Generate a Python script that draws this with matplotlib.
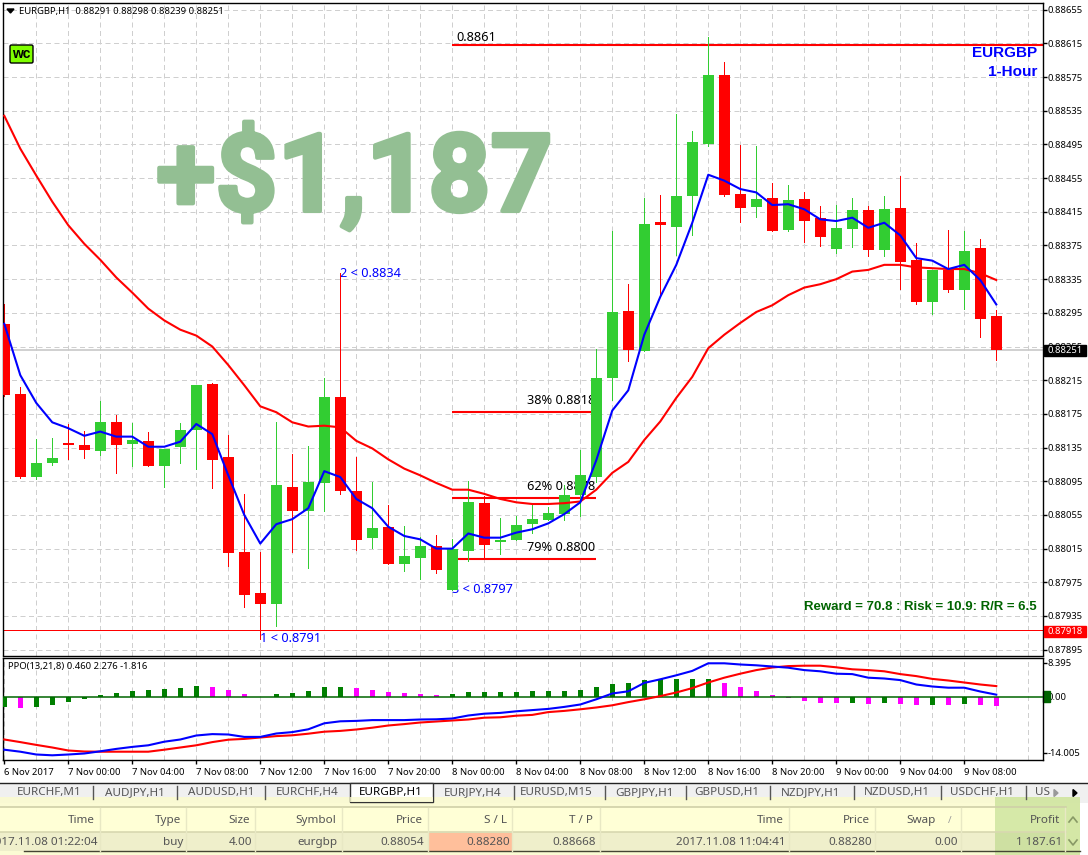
import numpy as np
import matplotlib
matplotlib.use("Agg")
import matplotlib.pyplot as plt
import matplotlib.patheffects as pe
from matplotlib.patches import Rectangle, FancyBboxPatch, Polygon

plt.rcParams["font.family"] = ["Noto Sans", "DejaVu Sans"]

W, H = 1088, 855
POINT = 1e-5

# ---- Candles, in price points (0.88306 -> 88306) ----
high = [88306, 88207, 88145, 88146, 88163, 88155, 88190, 88174, 88164, 88154, 88133, 88164, 88209, 88212, 88150, 88080,
        88011, 88165, 88127, 88137, 88218, 88342, 88124, 88094, 88067, 88042, 88029, 88031, 88026, 88095, 88078, 88051,
        88054, 88068, 88064, 88091, 88132, 88252, 88392, 88329, 88431, 88435, 88531, 88511, 88623, 88593, 88494, 88493,
        88449, 88447, 88438, 88422, 88423, 88431, 88422, 88434, 88458, 88378, 88346, 88393, 88392, 88383, 88298]
low = [88196, 88099, 88098, 88114, 88122, 88123, 88126, 88105, 88113, 88113, 88088, 88117, 88110, 88087, 87994, 87946,
       87908, 87923, 88011, 87992, 88060, 88080, 88013, 88016, 87997, 87988, 87979, 87986, 87966, 88000, 88003, 88009,
       88025, 88034, 88049, 88049, 88054, 88094, 88192, 88238, 88250, 88317, 88364, 88387, 88493, 88434, 88403, 88409,
       88392, 88392, 88379, 88374, 88366, 88373, 88362, 88362, 88323, 88305, 88294, 88320, 88300, 88266, 88239]
opens = [88282, 88199, 88100, 88117, 88141, 88138, 88131, 88165, 88139, 88143, 88113, 88136, 88156, 88211, 88124, 88011,
         87962, 87949, 88088, 88060, 88093, 88195, 88084, 88028, 88041, 87997, 88004, 88018, 87966, 88012, 88069, 88023,
         88025, 88044, 88049, 88056, 88079, 88100, 88218, 88297, 88250, 88403, 88397, 88434, 88495, 88577, 88436, 88421,
         88431, 88393, 88430, 88408, 88371, 88395, 88417, 88370, 88420, 88358, 88308, 88346, 88322, 88372, 88291]
closes = [88198, 88100, 88117, 88123, 88138, 88132, 88165, 88138, 88144, 88113, 88133, 88156, 88209, 88120, 88010, 87960,
          87949, 88091, 88060, 88094, 88195, 88084, 88025, 88040, 87997, 88006, 88018, 87990, 88015, 88070, 88019, 88025,
          88043, 88050, 88057, 88079, 88102, 88218, 88296, 88251, 88400, 88399, 88434, 88498, 88577, 88435, 88420, 88430,
          88392, 88429, 88404, 88385, 88396, 88417, 88370, 88418, 88355, 88308, 88346, 88322, 88368, 88288, 88251]

# ---- Moving averages ----
ma_fast = [88282, 88221, 88188, 88165, 88158, 88149, 88154, 88148, 88148, 88136, 88136, 88142, 88163, 88151, 88102, 88055,
           88021, 88044, 88050, 88063, 88107, 88100, 88074, 88063, 88041, 88030, 88026, 88015, 88015, 88033, 88028, 88028,
           88034, 88038, 88045, 88056, 88070, 88120, 88179, 88203, 88269, 88314, 88352, 88402, 88459, 88452, 88442, 88438,
           88423, 88424, 88418, 88406, 88404, 88408, 88396, 88402, 88387, 88360, 88357, 88347, 88352, 88334, 88305]
ma_slow = [88529, 88490, 88458, 88427, 88399, 88377, 88358, 88337, 88319, 88300, 88286, 88275, 88268, 88255, 88233, 88209,
           88184, 88177, 88165, 88160, 88161, 88159, 88143, 88134, 88121, 88110, 88102, 88093, 88085, 88085, 88080, 88074,
           88070, 88068, 88068, 88069, 88071, 88085, 88105, 88118, 88144, 88166, 88194, 88219, 88253, 88269, 88283, 88296,
           88304, 88316, 88325, 88329, 88335, 88344, 88346, 88352, 88352, 88349, 88348, 88347, 88347, 88342, 88334]

# ---- Levels ----
level_top = 88613
level_38 = 88177
level_62 = 88075
level_79 = 88003
level_stop = 87918
last_price = 88251

# ---- PPO panel ----
ppo_hist = [-2.6, -2.8, -2.6, -2.2, -1.3, -0.6, 0.3, 0.8, 1.3, 1.6, 1.8, 2.1, 2.6, 2.3, 1.6, 0.6, 0, 0.6, 0.8, 1.3, 2.3,
            2.3, 2.1, 1.6, 1.1, 0.8, 0.6, 0.3, 0.6, 1.1, 1.1, 1.1, 1.1, 1.3, 1.3, 1.3, 1.6, 2.3, 3.1, 3.3, 4.1, 4.3, 4.3,
            4.3, 4.3, 3.3, 2.3, 1.3, 0.3, -0.3, -1.2, -1.7, -1.7, -1.7, -1.9, -1.7, -1.9, -2.2, -2.2, -2.2, -1.9, -2.2, -2.4]
ppo_falling = [1, 13, 14, 15, 22, 23, 24, 25, 26, 27, 45, 46, 47, 48, 49, 50, 51, 52, 54, 56, 57, 59, 61, 62]
ppo_main = [-13.3, -13.8, -14.5, -14.7, -14.5, -14.25, -13.7, -13.1, -12.6, -12.2, -11.3, -10.75, -9.75, -9.4, -9.5, -10.1,
            -10.1, -9.25, -8.9, -8.2, -6.7, -6.2, -6.1, -5.9, -5.9, -5.9, -5.75, -5.7, -5.5, -4.75, -4.3, -4.1, -3.7, -3.4,
            -3.1, -2.6, -2, -0.7, 0.75, 1.3, 3.4, 4.3, 5.3, 6.4, 8.3, 8.3, 8, 7.8, 7.5, 7.2, 6.6, 6.3, 5.7, 5.6, 4.7, 4.5,
            4.1, 3, 2.5, 2.2, 2.2, 1.25, 0.46]
ppo_signal = [-10.75, -11.4, -12.1, -12.75, -13.5, -13.75, -13.8, -13.8, -13.8, -13.8, -13.3, -12.75, -12.2, -11.4, -10.8,
              -10.6, -10.25, -9.9, -9.7, -9.3, -8.8, -8.6, -8.25, -7.8, -7.25, -6.9, -6.5, -6.25, -6, -5.75, -5.3, -5.2,
              -4.8, -4.6, -3.9, -3.6, -3.2, -2.75, -2.2, -1.4, -0.7, 0.1, 1, 2.1, 3.5, 4.7, 5.7, 6.6, 7.25, 7.6, 7.7, 7.7,
              7.3, 6.8, 6.6, 6.3, 5.6, 5.1, 4.4, 4, 3.5, 3, 2.6]

date_labels = ["6 Nov 2017", "7 Nov 00:00", "7 Nov 04:00", "7 Nov 08:00", "7 Nov 12:00", "7 Nov 16:00", "7 Nov 20:00",
               "8 Nov 00:00", "8 Nov 04:00", "8 Nov 08:00", "8 Nov 12:00", "8 Nov 16:00", "8 Nov 20:00",
               "9 Nov 00:00", "9 Nov 04:00", "9 Nov 08:00"]

tab_names = ["EURCHF,M1", "AUDJPY,H1", "AUDUSD,H1", "EURCHF,H4", "EURGBP,H1", "EURJPY,H4", "EURUSD,M15", "GBPJPY,H1",
             "GBPUSD,H1", "NZDJPY,H1", "NZDUSD,H1", "USDCHF,H1", "US"]
header_names = ["Time", "Type", "Size", "Symbol", "Price", "S / L", "T / P", "Time", "Price", "Swap", "Profit"]
row_values = ["2017.11.08 01:22:04", "buy", "4.00", "eurgbp", "0.88054", "0.88280", "0.88668", "2017.11.08 11:04:41",
              "0.88280", "0.00", "1 187.61"]

GREEN = "#32cd32"
RED = "#ff0000"
BLUE = "#0000ff"
GRID = "#cfcfcf"
FS_TICK = 6.8
FS_DATE = 6.8
FS_LABEL = 9.2
GRID_DASH = (0, (5, 3.5))


def px_axes(left, top, right, bottom, **kw):
    return fig.add_axes([left / W, 1 - bottom / H, (right - left) / W, (bottom - top) / H], **kw)


def price_at(y_px):
    # screen row of the main panel -> price, only used to hang free text
    return (88666.5 - 1.1875 * y_px) * POINT


def style_grid(ax):
    ax.grid(True, color=GRID, linestyle=GRID_DASH, linewidth=0.72)
    ax.set_axisbelow(True)
    for s in ax.spines.values():
        s.set_linewidth(1.0)
        s.set_color("black")


fig = plt.figure(figsize=(W / 100, H / 100), dpi=100, facecolor="white")

bars = np.arange(len(closes))
o = np.array(opens) * POINT
c = np.array(closes) * POINT
hi = np.array(high) * POINT
lo = np.array(low) * POINT
up = c >= o
candle_colors = np.where(up, GREEN, RED)

# ---- Main price panel ----
ax = px_axes(3, 3, 1043, 655.5)
ax.set_xlim(-0.08, 64.92)
ax.set_ylim(price_at(655.5), price_at(3))
style_grid(ax)

price_ticks = np.arange(88655, 87894, -40) * POINT
ax.yaxis.tick_right()
ax.set_yticks(price_ticks)
ax.set_yticklabels([f"{t:.5f}" for t in price_ticks], fontsize=FS_TICK)
ax.tick_params(axis="y", length=2.6, width=1, pad=1)
ax.set_xticks(np.arange(2, 65, 2))
ax.tick_params(axis="x", length=0, labelbottom=False)

# big result text sits behind everything
ax.text(9.5, price_at(211), "+$1,187", fontsize=78, fontweight="bold", family="Roboto", color="#93bf93",
        ha="left", va="baseline", zorder=1, path_effects=[pe.withStroke(linewidth=3, foreground="#93bf93")])

# levels
ax.axhline(last_price * POINT, color="#c8c8c8", linewidth=1.2, zorder=1.2)
ax.axhline(level_stop * POINT, color=RED, linewidth=0.72, zorder=1.2)
ax.hlines(level_top * POINT, 28, 64.92, color=RED, linewidth=1.5, zorder=1.5)
ax.hlines([level_38 * POINT, level_62 * POINT, level_79 * POINT], 28, 37, color=RED, linewidth=1.5, zorder=1.5)

# labels of the levels, under the candles like in the terminal
ax.text(28.25, (level_top + 1) * POINT, "0.8861", fontsize=FS_LABEL, va="bottom", zorder=1.6)
ax.text(32.65, (level_38 + 5.6) * POINT, "38% 0.8818", fontsize=FS_LABEL, va="bottom", zorder=1.6)
ax.text(32.65, (level_62 + 5.6) * POINT, "62% 0.8878", fontsize=FS_LABEL, va="bottom", zorder=1.6)
ax.text(32.65, (level_79 + 5.6) * POINT, "79% 0.8800", fontsize=FS_LABEL, va="bottom", zorder=1.6)

ax.text(21.0, high[21] * POINT, "2 < 0.8834", fontsize=FS_LABEL, color=BLUE, va="center", zorder=1.6)
ax.text(28.0, low[28] * POINT, "3 < 0.8797", fontsize=FS_LABEL, color=BLUE, va="center", zorder=1.6)
ax.text(16.0, low[16] * POINT, "1 < 0.8791", fontsize=FS_LABEL, color=BLUE, va="center", zorder=5)

# candles
ax.vlines(bars, lo, hi, colors=candle_colors, linewidth=0.72, zorder=2.5, antialiased=False)
ax.bar(bars, np.abs(c - o), bottom=np.minimum(o, c), width=0.69, color=candle_colors, linewidth=0, zorder=3)

# moving averages
ax.plot(bars, np.array(ma_slow) * POINT, color=RED, linewidth=1.5, zorder=4)
ax.plot(bars, np.array(ma_fast) * POINT, color=BLUE, linewidth=1.5, zorder=4.2)

ax.text(64.55, price_at(53), "EURGBP", ha="right", va="center", fontsize=11, fontweight="bold", color=BLUE,
        family="Liberation Sans", zorder=6)
ax.text(64.55, price_at(72), "1-Hour", ha="right", va="center", fontsize=11, fontweight="bold", color=BLUE,
        family="Liberation Sans", zorder=6)
ax.text(64.55, price_at(607), "Reward = 70.8 : Risk = 10.9: R/R = 6.5", ha="right", va="center", fontsize=9.5,
        fontweight="bold", color="#006400", family="Liberation Sans", zorder=6)

# ---- PPO panel ----
ax2 = px_axes(3, 657.5, 1043, 760)
ax2.set_xlim(-0.08, 64.92)
ax2.set_ylim(-15.875, 9.75)
style_grid(ax2)
ax2.yaxis.grid(False)

hist_colors = ["#ff00ff" if i in ppo_falling else "#008000" for i in bars]
ax2.bar(bars, ppo_hist, width=0.31, color=hist_colors, linewidth=0, zorder=3)
ax2.axhline(0, color="#006400", linewidth=1.1, zorder=3.2)
ax2.plot(bars, ppo_signal, color=RED, linewidth=1.5, zorder=4)
ax2.plot(bars, ppo_main, color=BLUE, linewidth=1.5, zorder=4.2)

ax2.yaxis.tick_right()
ax2.set_yticks([8.395, 0, -14.005])
ax2.set_yticklabels(["8.395", "0.00", "-14.005"], fontsize=FS_TICK)
ax2.tick_params(axis="y", length=2.6, width=1, pad=1)

ax2.set_xticks(np.arange(2, 65, 2), minor=True)
ax2.grid(True, which="minor", axis="x", color=GRID, linestyle=GRID_DASH, linewidth=0.72)
ax2.set_xticks(np.arange(0, len(date_labels)) * 4)
ax2.set_xticklabels(date_labels, fontsize=FS_DATE, ha="left")
ax2.tick_params(axis="x", which="major", length=3, width=1, pad=3)
ax2.tick_params(axis="x", which="minor", length=0)
ax2.text(0.23, 7.6, "PPO(13,21,8) 0.460 2.276 -1.816", fontsize=FS_DATE, va="center", ha="left", zorder=6)

# ---- Terminal chrome, in pixel coordinates ----
ui = fig.add_axes([0, 0, 1, 1], zorder=10)
ui.set_xlim(0, W)
ui.set_ylim(H, 0)
ui.axis("off")
ui.patch.set_alpha(0)

# header line + wc button
ui.add_patch(Polygon([[7, 9], [14, 9], [10.5, 13]], color="black"))
ui.text(19, 11.5, "EURGBP,H1  0.88291 0.88298 0.88239 0.88251", fontsize=FS_DATE, va="center")
ui.add_patch(FancyBboxPatch((10, 45), 23, 18, boxstyle="round,pad=0,rounding_size=1.5", facecolor="#7fff00",
                            edgecolor="black", linewidth=1))
ui.text(21.5, 54, "wc", fontsize=10, fontweight="bold", ha="center", va="center", family="Liberation Sans")

# price flags on the right axis
ui.add_patch(Rectangle((1044, 345), 42, 11, color="black", zorder=3))
ui.text(1065, 350.5, "0.88251", color="white", fontsize=FS_TICK, ha="center", va="center", zorder=4)
ui.add_patch(Rectangle((1044, 625.5), 42, 11, color=RED, zorder=3))
ui.text(1065, 631, "0.87918", color="white", fontsize=FS_TICK, ha="center", va="center", zorder=4)
ax2.add_patch(Rectangle((1.0, -1.4), 0.007, 2.8, transform=ax2.get_yaxis_transform(), color="#006400", clip_on=False,
                        zorder=1))

# tabs
ui.add_patch(Rectangle((0, 783), W, 20, facecolor="#f0f0f0", edgecolor="none"))
ui.plot([0, W], [783, 783], color="#222222", linewidth=1)
ui.add_patch(Rectangle((350, 783), 83, 19, facecolor="white", edgecolor="#333333", linewidth=1, zorder=2))
tab_x = [49, 135, 221, 307, 391, 473, 556, 644, 727, 811, 897, 982, 1043]
for name, x in zip(tab_names, tab_x):
    ui.text(x, 792.5, name, fontsize=8.4, ha="center", va="center", color="black" if name == "EURGBP,H1" else "#555555",
            zorder=3)
for x in [93, 177, 265, 514, 605, 686, 770, 854, 941, 1026]:
    ui.plot([x, x], [786, 799], color="#555555", linewidth=1)
ui.add_patch(Polygon([[1054, 789.5], [1058, 793], [1054, 796.5]], color="#999999"))
ui.add_patch(Polygon([[1073, 789.5], [1077, 793], [1073, 796.5]], color="black"))

# table
ui.add_patch(Rectangle((0, 797), 1080, 58, facecolor="#fbfbd0", edgecolor="none", alpha=0.9, zorder=1))
ui.add_patch(Rectangle((350, 797), 83, 5, facecolor="#fbfbd0", edgecolor="none", alpha=0.8, zorder=2.5))
ui.add_patch(Rectangle((0, 807), 1066, 25, facecolor="#ffffd6", edgecolor="none", zorder=1.2))
ui.add_patch(Rectangle((0, 832), 1066, 19, facecolor="#efefcb", edgecolor="none", zorder=1.2))
ui.add_patch(Rectangle((428, 833), 84, 18, facecolor="#ffbf9b", edgecolor="none", zorder=1.3))
ui.add_patch(Rectangle((995, 797), 85, 58, facecolor="#a6cf70", edgecolor="none", alpha=0.45, zorder=1.4))
ui.plot([0, 1066], [807, 807], color="#cfcfa8", linewidth=1.2, zorder=1.5)
ui.plot([0, 1066], [832, 832], color="#d8d8b0", linewidth=1.2, zorder=1.5)
ui.plot([24, 1080], [851, 851], color="#444433", linewidth=1, zorder=1.5)
for x in [100, 186, 255, 342, 428, 512, 600, 789, 875, 961, 1065]:
    ui.plot([x, x], [808, 851], color="#e8e8c4", linewidth=1, zorder=1.5)

header_x = [95, 181, 250, 336, 423, 507, 593, 784, 870, 936, 1060]
row_x = [97, 183, 252, 338, 424, 510, 596, 785, 872, 958, 1062]
for name, x in zip(header_names, header_x):
    ui.text(x, 820, name, fontsize=8.4, ha="right", va="center", color="#555555", zorder=3)
for val, x in zip(row_values, row_x):
    ui.text(x, 842, val, fontsize=8.4, ha="right", va="center", color="#555555", zorder=3)
ui.text(950, 820, "/", fontsize=7, ha="center", va="center", color="#999999", zorder=3)
ui.plot([1069, 1073, 1077], [822, 817, 822], color="#889966", linewidth=1.2, zorder=3)
ui.plot([1069, 1073, 1077], [840, 845, 840], color="#889966", linewidth=1.2, zorder=3)

fig.savefig("out.png", dpi=100)
